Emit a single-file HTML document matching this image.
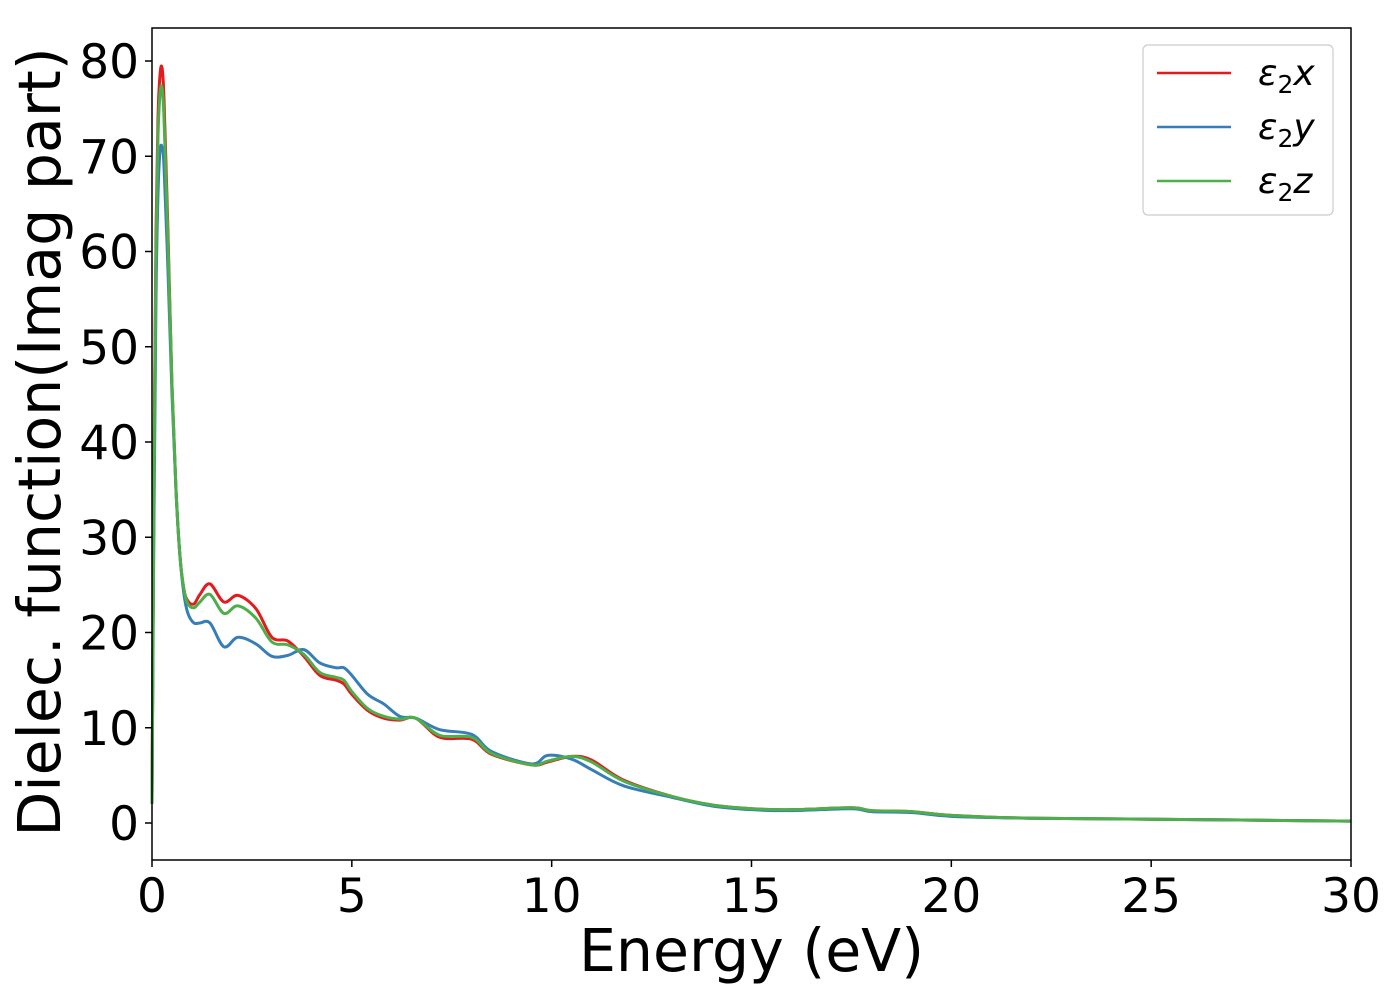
<!DOCTYPE html>
<html><head><meta charset="utf-8"><style>
body{margin:0;background:#fff}
svg text{font-family:"DejaVu Sans","Liberation Sans",sans-serif}
</style></head><body>
<svg id="chart" width="1400" height="1000" xmlns="http://www.w3.org/2000/svg">
<g id="plot"></g>
</svg>
<script>
const energies=[0,0.05,0.1,0.15,0.2,0.25,0.3,0.4,0.5,0.6,0.7,0.8,0.9,1.05,1.2,1.45,1.8,2.15,2.6,3.0,3.4,3.8,4.2,4.6,4.8,5.0,5.4,5.8,6.2,6.6,7.2,8.0,8.5,9.5,9.9,10.5,11.0,11.8,13,14,15,16,17.5,18,19,20,22,25,30];
const eps2x=[2,38,62,74,78.5,79.3,76,62,46,35,28,24.5,23.3,23.0,24.0,25.1,23.2,23.9,22.5,19.5,19.1,17.5,15.5,15.0,14.6,13.5,11.8,11.0,10.8,11.0,9.0,8.8,7.2,6.1,6.4,7.0,6.6,4.5,2.8,1.9,1.5,1.4,1.6,1.3,1.2,0.8,0.5,0.4,0.2];
const eps2y=[2,32,55,66,70.5,71,69,58,45,35,28,24,22,21,21,21,18.5,19.5,18.8,17.5,17.6,18.2,16.8,16.3,16.3,15.5,13.5,12.5,11.2,11.0,9.8,9.3,7.5,6.2,7.1,6.7,5.6,3.9,2.7,1.8,1.4,1.3,1.5,1.2,1.1,0.7,0.5,0.4,0.2];
const eps2z=[2,36,60,72,76.5,77.2,74,61,46,35,28,24.5,23,22.6,23.2,24.0,22.0,22.8,21.5,19.0,18.7,17.7,15.8,15.3,15.0,13.8,12.0,11.2,10.9,11.0,9.2,9.0,7.3,6.1,6.5,7.0,6.4,4.4,2.8,1.9,1.5,1.4,1.6,1.3,1.2,0.8,0.5,0.4,0.2];
const xTicks=[0,5,10,15,20,25,30];
const yTicks=[0,10,20,30,40,50,60,70,80];
const L=152,R=1351,T=28,B=860;
const xs=v=>L+(v-0)/30*(R-L);
const ys=v=>823-v*(823-61)/80;
const NS="http://www.w3.org/2000/svg";
const g=document.getElementById('plot');
function mk(tag,attrs){const e=document.createElementNS(NS,tag);for(const k in attrs)e.setAttribute(k,attrs[k]);g.appendChild(e);return e;}
function pathFor(vals){
  const p=energies.map((e,i)=>[xs(e),ys(vals[i])]);
  let d=`M${p[0][0]},${p[0][1]}`;
  for(let i=0;i<p.length-1;i++){
    const p0=p[Math.max(0,i-1)],p1=p[i],p2=p[i+1],p3=p[Math.min(p.length-1,i+2)];
    const c1=[p1[0]+(p2[0]-p0[0])/6,p1[1]+(p2[1]-p0[1])/6];
    const c2=[p2[0]-(p3[0]-p1[0])/6,p2[1]-(p3[1]-p1[1])/6];
    d+=` C${c1[0]},${c1[1]} ${c2[0]},${c2[1]} ${p2[0]},${p2[1]}`;
  }
  return d;
}
const series=[[eps2x,'#e41a1c','series-eps2x'],[eps2y,'#377eb8','series-eps2y'],[eps2z,'#4daf4a','series-eps2z']];
series.forEach(s=>{
  const e=mk('path',{d:pathFor(s[0]),fill:'none',stroke:s[1],'stroke-width':3});
  
  
});
xTicks.forEach(t=>{
  const x=xs(t);
  const l=mk('line',{x1:x,x2:x,y1:B,y2:B+7,stroke:'#000','stroke-width':1.5});
  
  
  const tx=mk('text',{x:x,y:B+52,'font-size':47,'text-anchor':'middle'});
  tx.textContent=t;
  
  
});
yTicks.forEach(t=>{
  const y=ys(t);
  const l=mk('line',{x1:L-7,x2:L,y1:y,y2:y,stroke:'#000','stroke-width':1.5});
  
  
  const tx=mk('text',{x:L-13,y:y+17,'font-size':47,'text-anchor':'end'});
  tx.textContent=t;
  
  
});
const fr=mk('rect',{x:L,y:T,width:R-L,height:B-T,fill:'none',stroke:'#000','stroke-width':1.5});


const xl=mk('text',{x:(L+R)/2,y:971,'font-size':58.5,'text-anchor':'middle'});
xl.textContent='Energy (eV)';


const yl=mk('text',{x:0,y:0,'font-size':58.5,'text-anchor':'middle',transform:`translate(60,${(T+B)/2-2}) rotate(-90)`});
yl.textContent='Dielec. function(Imag part)';


const lg=mk('rect',{x:1143,y:45,width:190,height:170,rx:5,fill:'#fff',stroke:'#ccc','stroke-width':1.2});


const labs=['x','y','z'];
series.forEach((s,i)=>{
  const y=73+i*54;
  const l=mk('line',{x1:1157,x2:1231,y1:y,y2:y,stroke:s[1],'stroke-width':2.5});
  
  
  const t=mk('text',{x:1258,y:y+12,'font-size':36,'font-style':'italic'});
  t.innerHTML=`ε<tspan font-style="normal" font-size="25" dy="8">2</tspan><tspan dy="-8">${labs[i]}</tspan>`;
  
  
});
</script>
</body></html>
